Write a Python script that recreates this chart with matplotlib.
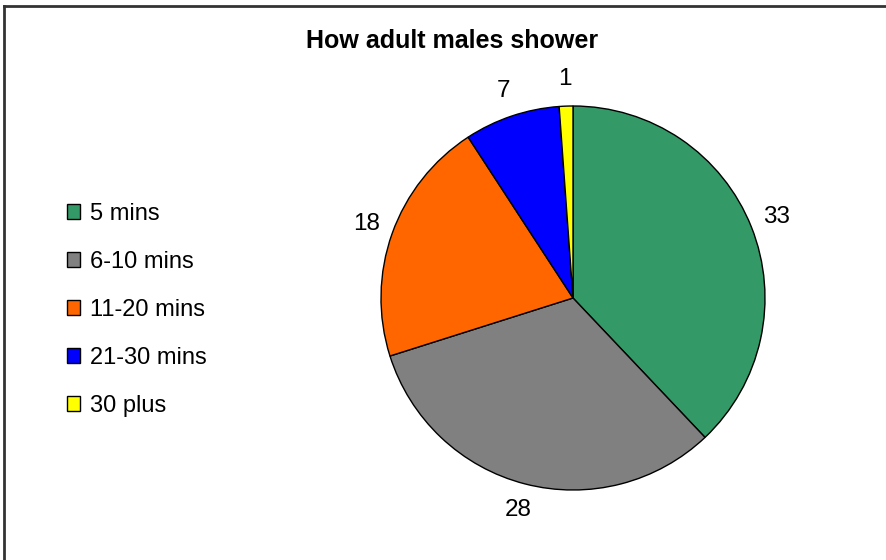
import matplotlib.pyplot as plt
from matplotlib.lines import Line2D

# shower length categories and counts
categories = ['5 mins', '6-10 mins', '11-20 mins', '21-30 mins', '30 plus']
counts = [33, 28, 18, 7, 1]
colours = ['#339966', '#808080', '#FF6600', '#0000FF', '#FFFF00']

plt.rcParams['font.family'] = ['Liberation Sans', 'DejaVu Sans']

fig = plt.figure(figsize=(8.86, 5.6), dpi=100)
fig.patch.set_facecolor('white')

# pie axes: centre ~(573,298) px, radius ~192 px
ax = fig.add_axes([381 / 886, 70 / 560, 384 / 886, 384 / 560])
wedges, texts = ax.pie(counts, colors=colours, startangle=90, counterclock=False,
                       labels=[str(c) for c in counts], labeldistance=1.14,
                       wedgeprops={'edgecolor': 'black', 'linewidth': 1.0},
                       textprops={'fontsize': 17.5})
for t in texts:
    t.set_horizontalalignment('center')
    t.set_verticalalignment('center')
ax.set_xlim(-1, 1)
ax.set_ylim(-1, 1)
ax.set_aspect('equal')

fig.text(452 / 886, 1 - 41 / 560, 'How adult males shower', ha='center', va='center',
         fontsize=18, fontweight='bold')

fig.legend(wedges, categories, loc='center left', bbox_to_anchor=(67 / 886, 1 - 310 / 560),
           frameon=False, fontsize=17, handlelength=0.57, handleheight=0.57,
           handletextpad=0.4, labelspacing=1.1, borderpad=0, borderaxespad=0)

# outer chart border (left and top edges visible)
fig.add_artist(Line2D([4 / 886, 4 / 886], [0, 1 - 6 / 560], color='#333333', lw=2,
                      transform=fig.transFigure))
fig.add_artist(Line2D([4 / 886, 1], [1 - 6 / 560, 1 - 6 / 560], color='#333333', lw=2,
                      transform=fig.transFigure))

fig.savefig('out.png', dpi=100)
